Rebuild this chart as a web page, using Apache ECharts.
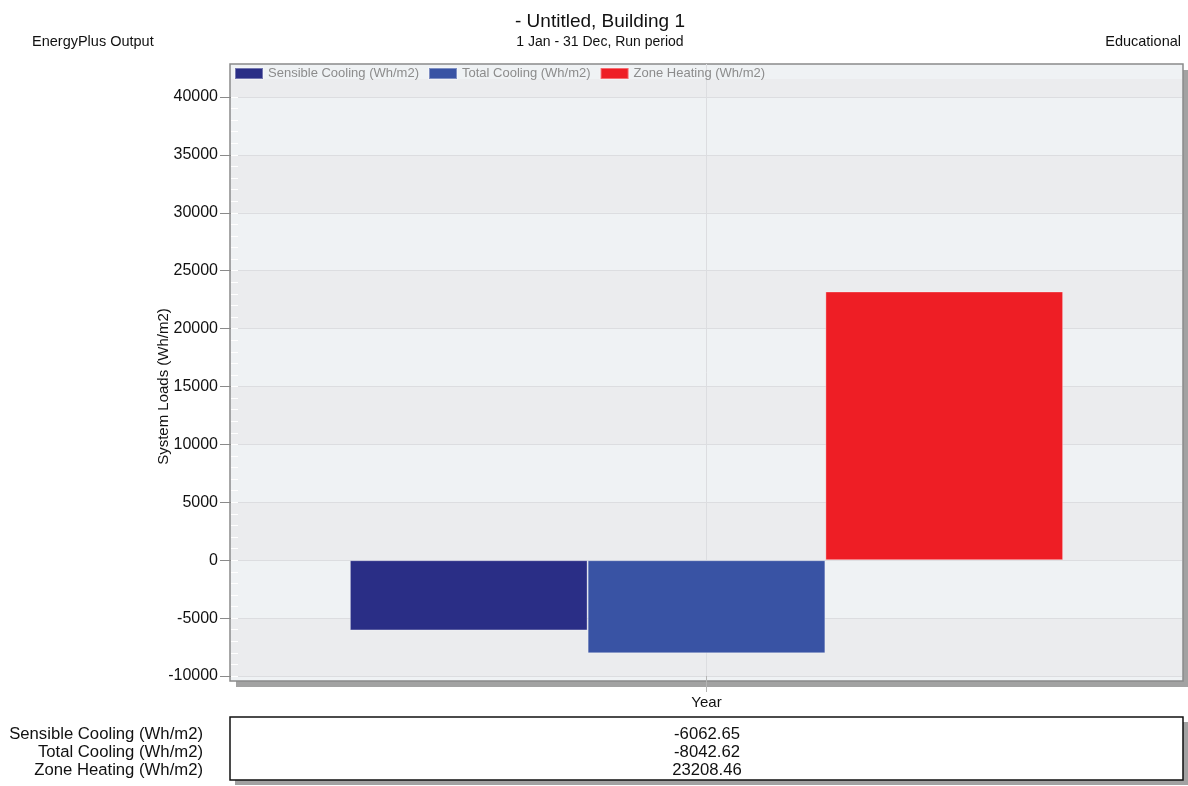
<!DOCTYPE html>
<html><head><meta charset="utf-8">
<script src="https://cdn.jsdelivr.net/npm/echarts@6/dist/echarts.min.js"></script>
<style>html,body{margin:0;padding:0;background:#fff}#c{width:1188px;height:786px}</style>
</head><body><div id="c"></div>
<script>
// ---- data ----
const categories = ['Year'];
const seriesNames = ['Sensible Cooling (Wh/m2)', 'Total Cooling (Wh/m2)', 'Zone Heating (Wh/m2)'];
const sensibleCooling = [-6062.65];
const totalCooling = [-8042.62];
const zoneHeating = [23208.46];
const yMin = -10000, yMax = 40000, yStep = 5000, yMinorStep = 1000;
const titleMain = '- Untitled, Building 1';
const titleSub = '1 Jan - 31 Dec, Run period';
const titleLeft = 'EnergyPlus Output';
const titleRight = 'Educational';
const yName = 'System Loads (Wh/m2)';

// ---- style ----
const FONT = '"Liberation Sans", Arial, Helvetica, sans-serif';
const colors = ['#2a2e86', '#3953a4', '#ee1e25'];
const seriesValues = [sensibleCooling, totalCooling, zoneHeating];
const LIGHT = '#eff2f4', DARK = '#ebecee', SHADOW = '#a2a2a2';

const chart = echarts.init(document.getElementById('c'), null, {renderer: 'canvas'});

const tableY = [734, 752, 770];
const graphics = [
  {type: 'text', z: 10, style: {text: titleMain, x: 600, y: 22, textAlign: 'center', textVerticalAlign: 'middle', font: '19px ' + FONT, fill: '#111'}},
  {type: 'text', z: 10, style: {text: titleSub, x: 600, y: 42, textAlign: 'center', textVerticalAlign: 'middle', font: '14px ' + FONT, fill: '#111'}},
  {type: 'text', z: 10, style: {text: titleLeft, x: 32, y: 42, textAlign: 'left', textVerticalAlign: 'middle', font: '14.5px ' + FONT, fill: '#111'}},
  {type: 'text', z: 10, style: {text: titleRight, x: 1181, y: 42, textAlign: 'right', textVerticalAlign: 'middle', font: '14.5px ' + FONT, fill: '#111'}},
  // darker band above the top tick (part of alternating background)
  {type: 'rect', z: 0, silent: true, shape: {x: 231, y: 79, width: 951, height: 18}, style: {fill: DARK}}
];
seriesNames.forEach((n, i) => {
  graphics.push({type: 'text', z: 10, style: {text: n, x: 203, y: tableY[i], textAlign: 'right', textVerticalAlign: 'middle', font: '16.7px ' + FONT, fill: '#111'}});
  graphics.push({type: 'text', z: 10, style: {text: seriesValues[i][0].toFixed(2), x: 707, y: tableY[i], textAlign: 'center', textVerticalAlign: 'middle', font: '16.7px ' + FONT, fill: '#111'}});
});

const option = {
  backgroundColor: '#fff',
  animation: false,
  textStyle: {fontFamily: FONT},
  grid: [
    // 0: frame
    {left: 230, right: 5, top: 64, bottom: 105, show: true, backgroundColor: LIGHT, borderColor: '#8a8a8a', borderWidth: 1.5, z: 0},
    // 1: data area
    {left: 231, right: 6, top: 97, height: 579, show: false},
    // 2: table box
    {left: 230, right: 5, top: 717, bottom: 6, show: true, backgroundColor: '#fff', borderColor: '#111', borderWidth: 1.5, z: 0},
    // 3: frame shadow
    {left: 236, right: 0, top: 70, bottom: 99, show: true, backgroundColor: SHADOW, borderWidth: 0, z: -1},
    // 4: table shadow
    {left: 235, right: 0, top: 722, bottom: 1, show: true, backgroundColor: SHADOW, borderWidth: 0, z: -1}
  ],
  legend: {
    left: 234, top: 67, padding: 0, itemWidth: 28, itemHeight: 11, itemGap: 9, icon: 'rect',
    textStyle: {color: '#8c8c8c', fontSize: 13, fontFamily: FONT},
    data: seriesNames
  },
  xAxis: [
    {gridIndex: 0, type: 'value', min: 0, max: 2, interval: 1, z: 1,
      axisLine: {show: false}, axisTick: {show: false}, axisLabel: {show: false},
      splitLine: {show: true, showMinLine: false, showMaxLine: false, lineStyle: {color: '#dcdde0', width: 1}}},
    {gridIndex: 1, type: 'category', data: categories, z: 1,
      axisLine: {show: false, onZero: false},
      axisTick: {show: true, alignWithLabel: true, length: 16, lineStyle: {color: '#b4b4b4'}},
      axisLabel: {show: true, margin: 19, color: '#111', fontSize: 15, fontFamily: FONT},
      splitLine: {show: false}},
    {gridIndex: 2, type: 'value', show: false},
    {gridIndex: 3, type: 'value', show: false},
    {gridIndex: 4, type: 'value', show: false}
  ],
  yAxis: [
    {gridIndex: 0, type: 'value', show: false},
    {gridIndex: 1, type: 'value', min: yMin, max: yMax, interval: yStep, position: 'left',
      name: yName, nameLocation: 'middle', nameGap: 60, nameMoveOverlap: false,
      nameTextStyle: {color: '#111', fontSize: 15, fontFamily: FONT},
      axisLine: {show: false},
      axisTick: {show: true, length: 11, lineStyle: {color: '#8a8a8a'}},
      axisLabel: {color: '#111', fontSize: 16, margin: 13, fontFamily: FONT, formatter: v => String(v)},
      splitLine: {show: true, lineStyle: {color: '#dcdde0', width: 1}},
      splitArea: {show: true, areaStyle: {color: [DARK, LIGHT]}}},
    {gridIndex: 1, type: 'value', min: yMin, max: yMax, interval: yMinorStep, position: 'left',
      axisLine: {show: false}, axisLabel: {show: false}, splitLine: {show: false},
      axisTick: {show: true, inside: true, length: 7, lineStyle: {color: '#ffffff', width: 1}}},
    {gridIndex: 2, type: 'value', show: false},
    {gridIndex: 3, type: 'value', show: false},
    {gridIndex: 4, type: 'value', show: false}
  ],
  series: seriesNames.map((n, i) => ({
    name: n, type: 'bar', xAxisIndex: 1, yAxisIndex: 1,
    barGap: '0%', barCategoryGap: '25%',
    itemStyle: {color: colors[i], borderColor: 'rgba(255,255,255,0.35)', borderWidth: 1},
    data: seriesValues[i]
  })),
  graphic: graphics
};
chart.setOption(option);
</script></body></html>
